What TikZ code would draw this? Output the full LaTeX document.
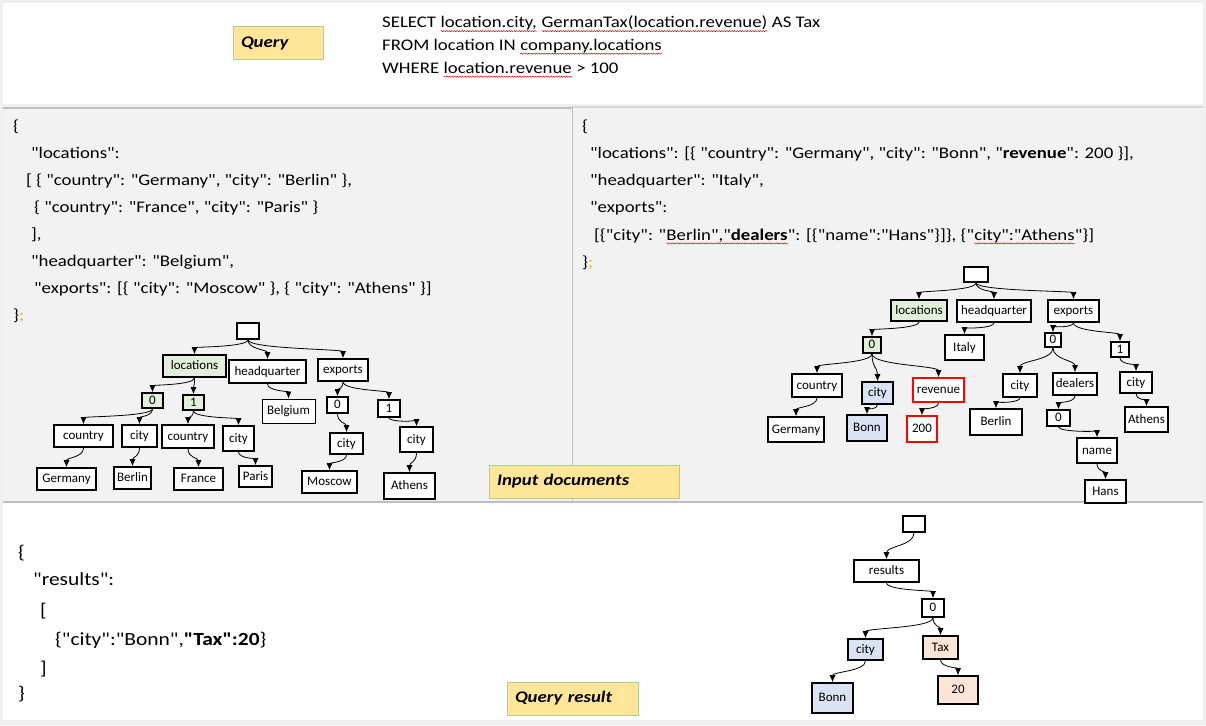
\documentclass[tikz,border=0pt]{standalone}
\usepackage{fontspec}
\setmainfont{Carlito}[Ligatures=TeXOff]
\newfontfamily\wf{Carlito}[FakeStretch=1.16, Ligatures=TeXOff]
\usetikzlibrary{arrows.meta,calc,decorations.pathmorphing}
\newcommand\spl[1]{\tikz[baseline=(splbox.base)]{\node[inner sep=0pt,outer sep=0pt,anchor=base west,draw=none,fill=none] (splbox) at (0,0) {#1};
  \draw[red!85!black, line width=0.45pt, decorate, decoration={snake, amplitude=0.6pt, segment length=2.6pt}] ([yshift=-3.4pt]splbox.base west) -- ([yshift=-3.4pt]splbox.base east);}}
\definecolor{panelgray}{HTML}{F2F2F2}
\definecolor{outergray}{HTML}{F0F0F0}
\definecolor{lblfill}{HTML}{FFE699}
\definecolor{lbldraw}{HTML}{A9D18E}
\definecolor{gfill}{HTML}{E2EFDA}
\definecolor{bfill}{HTML}{DAE3F3}
\definecolor{pfill}{HTML}{FBE5D6}
\definecolor{linegray}{HTML}{BFBFBF}
\definecolor{linelight}{HTML}{D9D9D9}
\definecolor{semi}{HTML}{D8BE00}
\tikzset{
  tn/.style={draw=black, line width=1.6pt, fill=white, inner sep=0pt, rectangle,
    font=\fontsize{13}{13}\selectfont, text height=9.5pt, text depth=2.5pt},
  sz/.style 2 args={minimum width=#1pt, minimum height=#2pt},
  gn/.style={tn, fill=gfill},
  bn/.style={tn, fill=bfill},
  pn/.style={tn, fill=pfill},
  rn/.style={tn, draw=red},
  tnthin/.style={tn, line width=0.9pt},
  conn/.style={-{Latex[length=7pt,width=6pt]}, line width=0.8pt, black},
  jt/.style={anchor=base west, inner sep=0pt, font=\wf\fontsize{16.2}{16}\selectfont},
  jb/.style={anchor=base west, inner sep=0pt, font=\wf\fontsize{18.5}{18}\selectfont},
  lbl/.style={draw=lbldraw, fill=lblfill, line width=1pt, inner xsep=8pt, inner ysep=0pt,
    align=left, font=\wf\fontsize{16.2}{17}\selectfont\bfseries\itshape, minimum height=33pt},
}
\newcommand\edge[2]{\draw[conn] let \p1=(#1.south), \p2=(#2.north) in
  (\p1) .. controls (\x1,{0.5*(\y1+\y2)}) and (\x2,{0.5*(\y1+\y2)}) .. (\p2);}
\begin{document}
\begin{tikzpicture}[x=1pt,y=-1pt]
\useasboundingbox (0,0) rectangle (1206,725);
% backgrounds
\fill[outergray] (0,0) rectangle (1206,725);
\fill[white] (3,3) rectangle (1203,104);
\fill[panelgray] (3,107) rectangle (1203,502);
\fill[white] (3,503) rectangle (1203,720);
\draw[linegray, line width=1.5pt] (3,108) -- (572,108);
\draw[linelight, line width=1.5pt] (572,107) -- (1203,107);
\draw[linegray, line width=1pt] (572,107) -- (572,502);
\draw[linegray, line width=1.5pt] (3,502) -- (1203,502);

% labels
\node[lbl, text width=74pt] (lq) at (278,43.5) {Query};
\node[lbl, text width=174pt] (lin) at (584,481.5) {Input documents};
\node[lbl, text width=115pt] (lres) at (572.5,698.5) {Query result};

% query
\node[jt] (q1) at (382,27.7) {SELECT \spl{location.city,} \spl{GermanTax(location.revenue)} AS Tax};
\node[jt] (q2) at (382,50.3) {FROM location IN \spl{company.locations}};
\node[jt] (q3) at (382,73.3) {WHERE \spl{location.revenue} > 100};

% left json
\node[jt] (l1) at (13,131) {\{};
\node[jt] (l2) at (31,158) {"locations":};
\node[jt] (l3) at (26,185) {[ \{ "country": "Germany", "city": "Berlin" \},};
\node[jt] (l4) at (34,212) {\{ "country": "France", "city": "Paris" \}};
\node[jt] (l5) at (31,239) {],};
\node[jt] (l6) at (31,266) {"headquarter": "Belgium",};
\node[jt] (l7) at (34,293) {"exports": [\{ "city": "Moscow" \}, \{ "city": "Athens" \}]};
\node[jt] (l8) at (13,320) {\}\textcolor{semi}{;}};

% right json
\node[jt] (r1) at (582,131) {\{};
\node[jt] (r2) at (590,158) {"locations": [\{ "country": "Germany", "city": "Bonn", "\textbf{revenue}": 200 \}],};
\node[jt] (r3) at (590,185) {"headquarter": "Italy",};
\node[jt] (r4) at (590,212) {"exports":};
\node[jt] (r5) at (594,240) {[\{"city": "\spl{Berlin","\textbf{dealers}}": [\{"name":"Hans"\}]\}, \{"\spl{city":"Athens}"\}]};
\node[jt] (r6) at (582,267) {\}\textcolor{semi}{;}};

% bottom json
\node[jb] (b1) at (18,558) {\{};
\node[jb] (b2) at (33,585.5) {"results":};
\node[jb] (b3) at (40,616) {[};
\node[jb] (b4) at (55,645) {\{"city":"Bonn",\textbf{"Tax":20}\}};
\node[jb] (b5) at (40,674) {]};
\node[jb] (b6) at (18,699) {\}};

% left tree
\node[tn,sz={22}{16}] (Lroot) at (248,331) {};
\node[gn,sz={63}{22}] (Lloc) at (194.5,366) {locations};
\node[tn,sz={77}{23}] (Lhq) at (267.5,371.5) {headquarter};
\node[tn,sz={50}{22}] (Lexp) at (343,370) {exports};
\node[gn,sz={21}{15}] (L0) at (152.5,400.5) {0};
\node[gn,sz={21}{15}] (L1) at (193.5,402.5) {1};
\node[tnthin,sz={53}{24}] (Lbel) at (288.5,411) {Belgium};
\node[tn,sz={21}{16}] (Le0) at (337.5,405) {0};
\node[tn,sz={22}{17}] (Le1) at (389,408.5) {1};
\node[tn,sz={59}{22}] (Lc1) at (83.5,436) {country};
\node[tn,sz={35}{22}] (Lci1) at (139.5,436) {city};
\node[tn,sz={52}{23}] (Lc2) at (188,436.5) {country};
\node[tn,sz={31}{25}] (Lci2) at (238.5,438.5) {city};
\node[tn,sz={33}{21}] (Lci3) at (346.5,443.5) {city};
\node[tn,sz={33}{25}] (Lci4) at (416.5,439.5) {city};
\node[tn,sz={59}{22}] (Lger) at (66.5,479) {Germany};
\node[tn,sz={37}{22}] (Lber) at (132.5,478) {Berlin};
\node[tn,sz={49}{22}] (Lfra) at (198.5,479) {France};
\node[tn,sz={33}{21}] (Lpar) at (255.5,476.5) {Paris};
\node[tn,sz={55}{22}] (Lmos) at (329.5,482) {Moscow};
\node[tn,sz={51}{26}] (Lath) at (409.5,486) {Athens};
\edge{Lroot}{Lloc}
\edge{Lroot}{Lhq}
\edge{Lroot}{Lexp}
\edge{Lloc}{L0}
\edge{Lloc}{L1}
\edge{Lhq}{Lbel}
\edge{Lexp}{Le0}
\edge{Lexp}{Le1}
\edge{L0}{Lc1}
\edge{L0}{Lci1}
\edge{L1}{Lc2}
\edge{L1}{Lci2}
\edge{Le0}{Lci3}
\edge{Le1}{Lci4}
\edge{Lc1}{Lger}
\edge{Lci1}{Lber}
\edge{Lc2}{Lfra}
\edge{Lci2}{Lpar}
\edge{Lci3}{Lmos}
\edge{Lci4}{Lath}

% right tree
\node[tn,sz={24}{15}] (Rroot) at (976,274.5) {};
\node[gn,sz={56}{21}] (Rloc) at (919,310.5) {locations};
\node[tn,sz={74}{22}] (Rhq) at (994,311) {headquarter};
\node[tn,sz={51}{22}] (Rexp) at (1073.5,311) {exports};
\node[gn,sz={18}{16}] (R0) at (872,345) {0};
\node[tn,sz={39}{25}] (Rita) at (964.5,347.5) {Italy};
\node[tn,sz={16}{14}] (Re0) at (1053,340) {0};
\node[tn,sz={18}{15}] (Re1) at (1120,349.5) {1};
\node[tn,sz={50}{23}] (Rcou) at (817,385.5) {country};
\node[bn,sz={31}{22}] (Rcit) at (877.5,393) {city};
\node[rn,sz={51}{24}] (Rrev) at (938.5,390) {revenue};
\node[tn,sz={34}{23}] (Rci2) at (1020,385.5) {city};
\node[tn,sz={44}{22}] (Rdea) at (1075,384) {dealers};
\node[tn,sz={32}{21}] (Rci3) at (1136,382.5) {city};
\node[tn,sz={56}{25}] (Rger) at (796,429.5) {Germany};
\node[bn,sz={40}{26}] (Rbon) at (867,428) {Bonn};
\node[rn,sz={30}{26}] (R200) at (922,429) {200};
\node[tn,sz={52}{26}] (Rber) at (996,422) {Berlin};
\node[tn,sz={23}{16}] (Rd0) at (1058.5,418) {0};
\node[tn,sz={43}{25}] (Rath) at (1146.5,419.5) {Athens};
\node[tn,sz={40}{25}] (Rnam) at (1097,450.5) {name};
\node[tn,sz={41}{23}] (Rhan) at (1105.5,491.5) {Hans};
\edge{Rroot}{Rloc}
\edge{Rroot}{Rhq}
\edge{Rroot}{Rexp}
\edge{Rloc}{R0}
\edge{Rhq}{Rita}
\edge{Rexp}{Re0}
\edge{Rexp}{Re1}
\edge{R0}{Rcou}
\edge{R0}{Rcit}
\edge{R0}{Rrev}
\edge{Re0}{Rci2}
\edge{Re0}{Rdea}
\edge{Re1}{Rci3}
\edge{Rcou}{Rger}
\edge{Rcit}{Rbon}
\edge{Rrev}{R200}
\edge{Rci2}{Rber}
\edge{Rdea}{Rd0}
\edge{Rd0}{Rnam}
\edge{Rnam}{Rhan}
\edge{Rci3}{Rath}

% bottom tree
\node[tn,sz={22}{16}] (Broot) at (914,524) {};
\node[tn,sz={65}{22}] (Bres) at (886.5,571) {results};
\node[tn,sz={22}{18}] (B0) at (933,608) {0};
\node[bn,sz={35}{21}] (Bcit) at (865.5,649.5) {city};
\node[pn,sz={35}{23}] (Btax) at (940.5,647.5) {Tax};
\node[bn,sz={41}{30}] (Bbon) at (832.5,698) {Bonn};
\node[pn,sz={40}{28}] (B20) at (958,690) {20};
\edge{Broot}{Bres}
\edge{Bres}{B0}
\edge{B0}{Bcit}
\edge{B0}{Btax}
\edge{Bcit}{Bbon}
\edge{Btax}{B20}
\end{tikzpicture}
\end{document}
